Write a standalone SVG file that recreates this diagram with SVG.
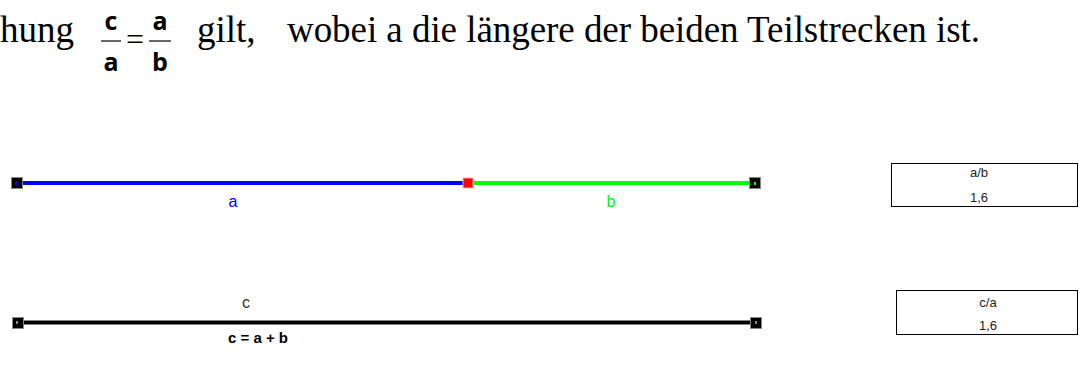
<svg xmlns="http://www.w3.org/2000/svg" width="1079" height="372" viewBox="0 0 1079 372">
<style>
.serif{font-family:"Liberation Serif","Times New Roman",serif;fill:#000}
.frac{font-family:"Open Sans","Liberation Sans",sans-serif;font-weight:bold;font-size:25px;fill:#000;text-anchor:middle}
.lbl{font-family:"Liberation Sans",Arial,sans-serif;font-size:16px;text-anchor:middle}
.box{fill:#fff;stroke:#000;stroke-width:1}
.boxt{font-family:"Liberation Sans",Arial,sans-serif;font-size:13px;fill:#222;text-anchor:middle}
.pt{fill:#000;stroke:#888;stroke-width:1}
</style>
<g id="title">
<text class="serif" x="0" y="42" font-size="37">hung</text>
<text class="frac" x="111" y="30">c</text>
<line x1="101" y1="41" x2="121" y2="41" stroke="#000" stroke-width="1.2"/>
<text class="frac" x="111" y="71">a</text>
<text class="serif" x="135" y="50" font-size="32" text-anchor="middle">=</text>
<text class="frac" x="160" y="30">a</text>
<line x1="149" y1="41" x2="171" y2="41" stroke="#000" stroke-width="1.2"/>
<text class="frac" x="160" y="71">b</text>
<text class="serif" x="197" y="42" font-size="37">gilt,</text>
<text class="serif" x="287" y="42" font-size="37" textLength="693" lengthAdjust="spacing">wobei a die längere der beiden Teilstrecken ist.</text>
</g>
<g id="connectors">
<line x1="17" y1="183" x2="468" y2="183" stroke="#0000ff" stroke-width="4"/>
<line x1="468" y1="183" x2="755" y2="183" stroke="#00ff00" stroke-width="4"/>
<line x1="18" y1="322.5" x2="756" y2="322.5" stroke="#000" stroke-width="4"/>
</g>
<g id="pA">
<rect class="pt" x="11.5" y="177.5" width="11" height="11"/>
<rect x="15" y="182" width="2" height="3" fill="#0000ff"/>
</g>
<g id="pM">
<rect x="463" y="178" width="10" height="10" fill="#ff0000" stroke="#ffb0b0" stroke-width="1"/>
</g>
<g id="pB">
<rect class="pt" x="749.5" y="177.5" width="11" height="11"/>
<rect x="754" y="182" width="2" height="3" fill="#00ff00"/>
</g>
<g id="pC1">
<rect class="pt" x="12.5" y="317.5" width="11" height="11"/>
<rect x="16" y="321" width="2" height="3" fill="#888"/>
</g>
<g id="pC2">
<rect class="pt" x="750.5" y="317.5" width="11" height="11"/>
<rect x="755" y="321" width="2" height="3" fill="#888"/>
</g>
<g id="labels">
<text class="lbl" x="233" y="207" fill="#0000ff">a</text>
<text class="lbl" x="611" y="207" fill="#00ff00">b</text>
<text class="lbl" x="246" y="308" fill="#333">c</text>
<text x="258" y="343" font-family="Liberation Sans,Arial,sans-serif" font-size="15" font-weight="bold" text-anchor="middle" fill="#000">c = a + b</text>
</g>
<g id="boxAB">
<rect class="box" x="891.5" y="163.5" width="186" height="43"/>
<text class="boxt" x="979" y="177">a/b</text>
<text class="boxt" x="979" y="202">1,6</text>
</g>
<g id="boxCA">
<rect class="box" x="896.5" y="290.5" width="181" height="44"/>
<text class="boxt" x="988" y="307">c/a</text>
<text class="boxt" x="988" y="330">1,6</text>
</g>
</svg>
